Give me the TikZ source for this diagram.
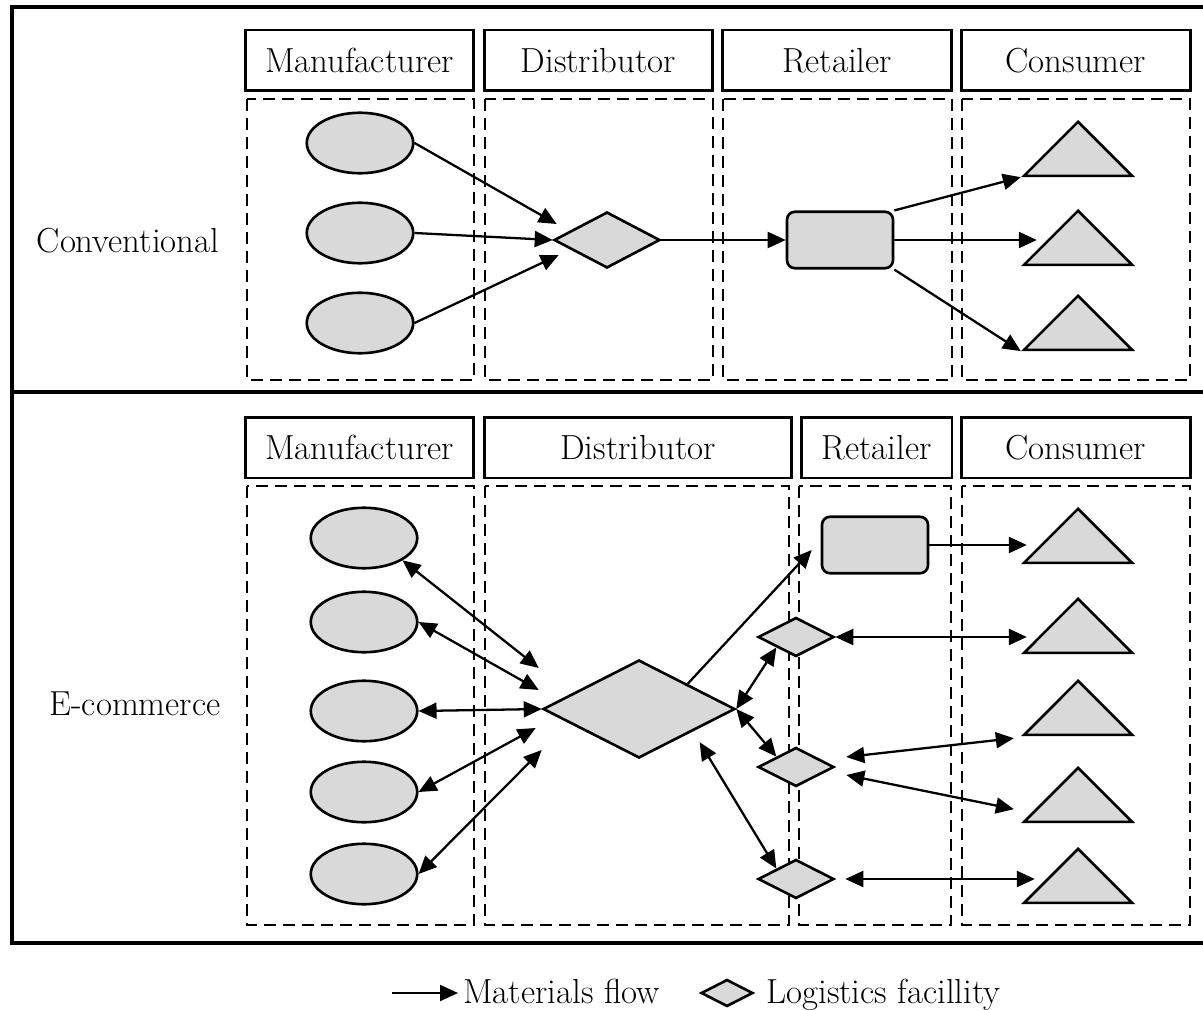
\documentclass[tikz,border=0pt]{standalone}
\usepackage{xcolor}
\usepackage{tikz}
\usetikzlibrary{shapes.geometric, arrows.meta, calc}

\definecolor{shade}{HTML}{D9D9D9}

\tikzset{
	lane/.style={draw, line width=1.5pt, dash pattern=on 0.24cm off 0.14cm},
	hdr/.style={draw, line width=1.7pt, minimum height=1.22cm, inner sep=0pt},
	maker/.style={ellipse, draw, line width=1.5pt, fill=shade, minimum width=2.13cm, minimum height=1.21cm},
	hub/.style={diamond, draw, line width=1.5pt, fill=shade, inner sep=0pt},
	shop/.style={rectangle, rounded corners=0.16cm, draw, line width=1.5pt, fill=shade, minimum width=2.12cm, minimum height=1.13cm},
	buyer/.style={isosceles triangle, isosceles triangle apex angle=90, shape border rotate=90, draw, line width=1.5pt, fill=shade, inner sep=0pt, minimum width=2.16cm, minimum height=1.08cm, anchor=apex},
	flow/.style={line width=1.3pt, -{Triangle[length=0.36cm, width=0.32cm]}},
	both/.style={line width=1.3pt, {Triangle[length=0.36cm, width=0.32cm]}-{Triangle[length=0.36cm, width=0.32cm]}}
}

\begin{document}
\begin{tikzpicture}[x=0.02cm, y=-0.02cm, font=\fontsize{19.8}{24}\selectfont]
	\useasboundingbox (0,0) rectangle (1203,1010);

	% outer frame, open at the right
	\draw[line width=1.8pt] (1215,7) -- (12,7) -- (12,943) -- (1215,943);
	\draw[line width=1.8pt] (12,392) -- (1215,392);

	% conventional
	\node (lblA) at (128,241) {Conventional};
	\node[hdr, minimum width=4.58cm] (hM1) at (359.5,60.5) {Manufacturer};
	\node[hdr, minimum width=4.58cm] (hD1) at (598.5,60.5) {Distributor};
	\node[hdr, minimum width=4.58cm] (hR1) at (837,60.5) {Retailer};
	\node[hdr, minimum width=4.58cm] (hC1) at (1076,60.5) {Consumer};

	\draw[lane] (247,99) rectangle (474,380);
	\draw[lane] (485,99) rectangle (713,380);
	\draw[lane] (723,99) rectangle (952,380);
	\draw[lane] (962,99) rectangle (1190,380);

	\foreach \i/\y in {1/143, 2/233, 3/323}
		\node[maker] (e\i) at (360,\y) {};
	\node[hub, minimum width=2.12cm, minimum height=1.12cm] (d) at (607,240) {};
	\node[shop] (r) at (840,240) {};
	\foreach \i/\y in {1/120, 2/209, 3/294}
		\node[buyer] (t\i) at (1078,\y) {};

	\draw[flow] (e1.east) -- ([shift={(4,-16)}]d.west);
	\draw[flow] (e2.east) -- (d.west);
	\draw[flow] (e3.east) -- ([shift={(6,15)}]d.west);
	\draw[flow] (d.east) -- (r.west);
	\draw[flow] (r.north east) -- (t1.left corner);
	\draw[flow] (r.east) -- ($(r.east -| t2.left corner)+(16,0)$);
	\draw[flow] (r.south east) -- (t3.left corner);

	% e-commerce
	\node (lblB) at (135,704) {E-commerce};
	\node[hdr, minimum width=4.58cm] (hM2) at (359.5,447.5) {Manufacturer};
	\node[hdr, minimum width=6.16cm] (hD2) at (638,447.5) {Distributor};
	\node[hdr, minimum width=3.02cm] (hR2) at (876.5,447.5) {Retailer};
	\node[hdr, minimum width=4.58cm] (hC2) at (1076,447.5) {Consumer};

	\draw[lane] (247,486) rectangle (474,925);
	\draw[lane] (485,486) rectangle (789,925);
	\draw[lane] (799,486) rectangle (951,925);
	\draw[lane] (962,486) rectangle (1190,925);

	\foreach \i/\y in {1/538, 2/622, 3/711, 4/792, 5/874}
		\node[maker] (m\i) at (364,\y) {};
	\node[hub, minimum width=3.84cm, minimum height=1.96cm] (big) at (639,709) {};
	\node[shop] (rs) at (875,545) {};
	\foreach \i/\y in {1/637, 2/767, 3/879}
		\node[hub, minimum width=1.52cm, minimum height=0.78cm] (s\i) at (796,\y) {};
	\foreach \i/\y in {1/507, 2/597, 3/679, 4/766, 5/847}
		\node[buyer] (u\i) at (1078,\y) {};

	\draw[both] (m1.south east) -- ([shift={(-3,-41)}]big.west);
	\draw[both] (m2.east) -- ([shift={(-3,-19)}]big.west);
	\draw[both] (m3.east) -- (big.west);
	\draw[both] (m4.east) -- ([shift={(-6,19)}]big.west);
	\draw[both] (m5.east) -- ([shift={(0,41)}]big.west);

	\draw[flow] (big.north east) -- ([shift={(-9,5)}]rs.west);
	\draw[both] (big.east) -- (s1.south west);
	\draw[both] (big.east) -- (s2.north west);
	\draw[both] ([shift={(12,8)}]big.south east) -- (s3.north west);

	\draw[flow] (rs.east) -- ($(rs.east -| u1.left corner)+(6,0)$);
	\draw[both] (s1.east) -- ($(s1.east -| u2.left corner)+(6,0)$);
	\draw[both] ([shift={(11,-10)}]s2.east) -- ([shift={(-7,2)}]u3.left corner);
	\draw[both] ([shift={(11,8)}]s2.east) -- ([shift={(-7,-14)}]u4.left corner);
	\draw[both] ([shift={(10,0)}]s3.east) -- ($(s3.east -| u5.left corner)+(14,0)$);

	% legend
	\coordinate (legA) at (392,993);
	\coordinate (legB) at (458,993);
	\draw[flow] (legA) -- (legB);
	\node[anchor=base west, inner sep=0pt] (legF) at (463,1003) {Materials flow};
	\node[hub, minimum width=1.04cm, minimum height=0.54cm] (legD) at (727,993) {};
	\node[anchor=base west, inner sep=0pt] (legL) at (766,1003) {Logistics facillity};
\end{tikzpicture}
\end{document}
